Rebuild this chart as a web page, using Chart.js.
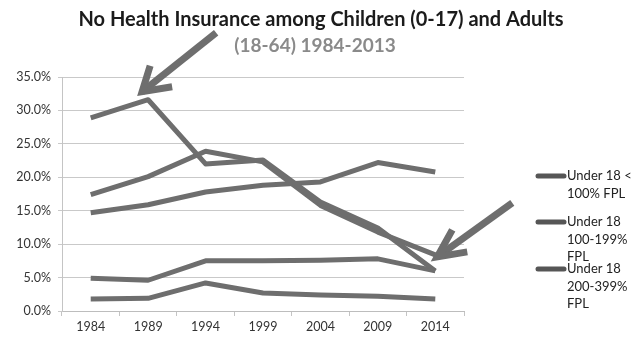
<!DOCTYPE html>
<html>
<head>
<meta charset="utf-8">
<script src="https://cdn.jsdelivr.net/npm/chart.js@4"></script>
<style>
  html, body { margin: 0; padding: 0; background: #fff; }
  #wrap { width: 641px; height: 337px; }
</style>
</head>
<body>
<div id="wrap"><canvas id="healthChart" width="641" height="337"></canvas></div>
<script>
// values (percent uninsured)
const years = ['1984', '1989', '1994', '1999', '2004', '2009', '2014'];
const under18Below100 = [28.9, 31.6, 22.0, 22.6, 16.3, 12.4, 6.0];
const under18From100 = [17.4, 20.1, 23.9, 22.3, 15.8, 11.8, 8.4];
const under18From200 = [14.7, 15.9, 17.8, 18.8, 19.3, 22.2, 20.8];
const seriesFour = [4.9, 4.6, 7.5, 7.5, 7.6, 7.8, 6.0];
const seriesFive = [1.8, 1.9, 4.2, 2.7, 2.4, 2.2, 1.8];
const legendLabels = [
    ['Under 18 <', '100% FPL'],
    ['Under 18', '100-199%', 'FPL'],
    ['Under 18', '200-399%', 'FPL']
];
const yTicks = [0, 5, 10, 15, 20, 25, 30, 35];
const titleText = 'No Health Insurance among Children (0-17) and Adults';
const subtitleText = '(18-64) 1984-2013';

const lineGray = '#6e6e6e';
const FONT = 'Lato, "Open Sans", sans-serif';

function makeDataset(label, values) {
    return {
        label: label,
        data: values,
        borderColor: lineGray,
        backgroundColor: lineGray,
        borderWidth: 5,
        pointRadius: 0,
        tension: 0,
        borderJoinStyle: 'round',
        borderCapStyle: 'butt',
        fill: false
    };
}

// thick annotation arrows, tips anchored to data points
function drawArrow(ctx, tipX, tipY, tailX, tailY, arm1, arm2) {
    ctx.save();
    ctx.strokeStyle = '#6e6e6e';
    ctx.lineWidth = 7;
    ctx.lineCap = 'butt';
    ctx.lineJoin = 'miter';
    ctx.beginPath();
    ctx.moveTo(tailX, tailY);
    ctx.lineTo(tipX, tipY);
    ctx.stroke();
    ctx.beginPath();
    ctx.moveTo(tipX + arm1[0], tipY + arm1[1]);
    ctx.lineTo(tipX, tipY);
    ctx.lineTo(tipX + arm2[0], tipY + arm2[1]);
    ctx.stroke();
    ctx.restore();
}

const annotations = {
    id: 'annotations',
    afterDatasetsDraw(chart) {
        const ctx = chart.ctx;
        const x = chart.scales.x;
        const y = chart.scales.y;

        const p1x = x.getPixelForValue(1);
        const p1y = y.getPixelForValue(under18Below100[1]);
        drawArrow(ctx, p1x - 6, p1y - 8, p1x + 68, p1y - 67, [8, -26], [30, -5]);

        const p2x = x.getPixelForValue(6);
        const p2y = y.getPixelForValue(under18From100[6]);
        drawArrow(ctx, p2x + 2, p2y + 2, p2x + 77, p2y - 52, [15, -27], [30, -5]);
    },
    afterDraw(chart) {
        const ctx = chart.ctx;
        const area = chart.chartArea;
        ctx.save();
        // two-line heading, second line in gray
        ctx.textAlign = 'center';
        ctx.textBaseline = 'middle';
        ctx.font = 'bold 20px ' + FONT;
        ctx.fillStyle = '#1b1b1b';
        ctx.fillText(titleText, 321, 20);
        ctx.font = 'bold 19px ' + FONT;
        ctx.fillStyle = '#8a8a8a';
        ctx.fillText(subtitleText, 315, 46);

        // legend on the right, text wrapped like the original
        const startX = area.right + 72;
        const tops = [176, 222, 269];
        ctx.font = '13px ' + FONT;
        ctx.textAlign = 'left';
        legendLabels.forEach((lines, i) => {
            ctx.strokeStyle = '#565656';
            ctx.lineWidth = 5;
            ctx.lineCap = 'round';
            ctx.beginPath();
            ctx.moveTo(startX + 2, tops[i]);
            ctx.lineTo(startX + 28, tops[i]);
            ctx.stroke();
            ctx.fillStyle = '#222';
            lines.forEach((t, j) => {
                ctx.fillText(t, startX + 31, tops[i] + j * 17.5);
            });
        });
        ctx.restore();
    }
};

const chart = new Chart(document.getElementById('healthChart').getContext('2d'), {
    type: 'line',
    data: {
        labels: years,
        datasets: [
            makeDataset('Under 18 < 100% FPL', under18Below100),
            makeDataset('Under 18 100-199% FPL', under18From100),
            makeDataset('Under 18 200-399% FPL', under18From200),
            makeDataset('Series 4', seriesFour),
            makeDataset('Series 5', seriesFive)
        ]
    },
    options: {
        responsive: false,
        animation: false,
        layout: {
            padding: { left: 0, right: 177, top: 77, bottom: 0 }
        },
        plugins: {
            legend: { display: false },
            tooltip: { enabled: false }
        },
        scales: {
            x: {
                offset: true,
                afterFit: scale => { scale.height = 26; },
                grid: {
                    offset: true,
                    drawOnChartArea: false,
                    drawTicks: true,
                    tickLength: 5,
                    color: '#c4c4c4'
                },
                border: { display: true, color: '#bdbdbd', width: 1 },
                ticks: {
                    color: '#333',
                    padding: 3,
                    maxRotation: 0,
                    font: { family: FONT, size: 12.5 }
                }
            },
            y: {
                min: 0,
                max: 35,
                afterFit: scale => { scale.width = 62; },
                afterBuildTicks: scale => { scale.ticks = yTicks.map(v => ({ value: v })); },
                grid: {
                    color: '#c9c9c9',
                    drawTicks: true,
                    tickLength: 4
                },
                border: { display: true, color: '#c4c4c4', width: 1 },
                ticks: {
                    color: '#333',
                    padding: 7,
                    font: { family: FONT, size: 12.5 },
                    callback: v => v.toFixed(1) + '%'
                }
            }
        }
    },
    plugins: [annotations]
});
</script>
</body>
</html>
